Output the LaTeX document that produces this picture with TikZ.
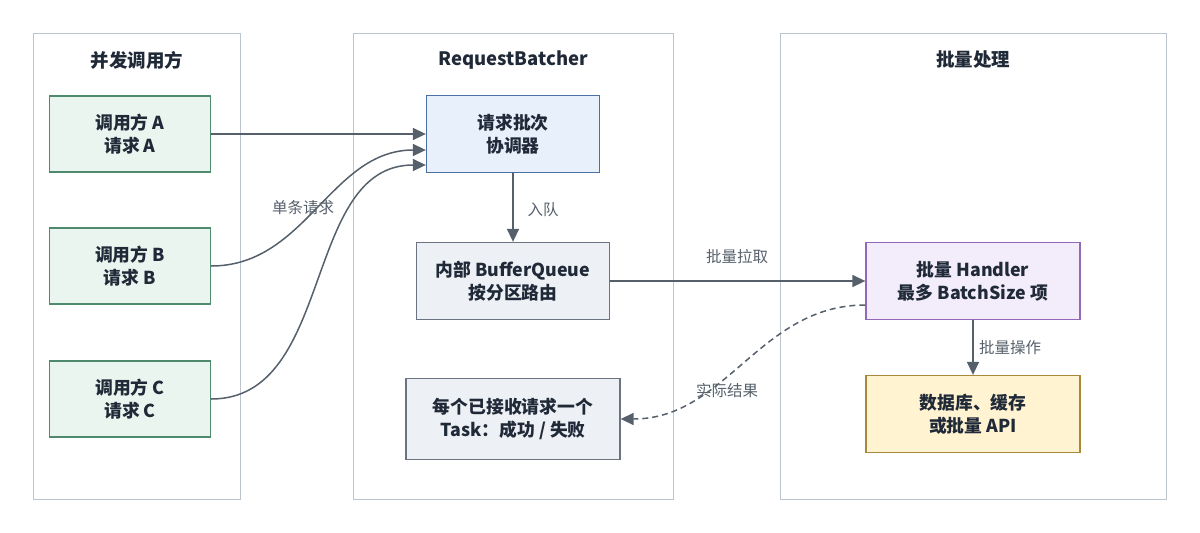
\documentclass[tikz,border=0pt]{standalone}
\usepackage{fontspec}
\setmainfont{Noto Sans CJK SC}
\usetikzlibrary{arrows.meta}
\definecolor{panelline}{HTML}{BCC5CE}
\definecolor{inkdark}{HTML}{1F2937}
\definecolor{arrowgrey}{HTML}{56606B}
\definecolor{callerfill}{HTML}{E9F5EE}
\definecolor{callerline}{HTML}{4F8A6F}
\definecolor{coordfill}{HTML}{E8F0FC}
\definecolor{coordline}{HTML}{4A6FA5}
\definecolor{queuefill}{HTML}{EDF0F4}
\definecolor{queueline}{HTML}{6B7380}
\definecolor{handlerfill}{HTML}{F3ECFB}
\definecolor{handlerline}{HTML}{9468B8}
\definecolor{storefill}{HTML}{FFF3D1}
\definecolor{storeline}{HTML}{A8883A}

\tikzset{
  panel/.style={draw=panelline, line width=1pt},
  title/.style={font=\fontsize{18.5}{20}\selectfont\bfseries, text=inkdark},
  box/.style={draw, line width=1.3pt, minimum width=161pt, minimum height=76pt,
    align=center, font=\fontsize{17.8}{23}\selectfont\bfseries, text=inkdark},
  caller/.style={box, draw=callerline, fill=callerfill},
  coord/.style={box, draw=coordline, fill=coordfill},
  queue/.style={box, draw=queueline, fill=queuefill},
  handler/.style={box, draw=handlerline, fill=handlerfill},
  store/.style={box, draw=storeline, fill=storefill},
  flow/.style={draw=arrowgrey, line width=1.5pt, -{Triangle[length=13pt,width=12pt]}},
  lbl/.style={font=\fontsize{15.5}{17}\selectfont, text=arrowgrey},
}

\begin{document}
\begin{tikzpicture}[x=1pt,y=-1pt]
\useasboundingbox (0,0) rectangle (1200,533);

% panels
\draw[panel] (33,33) rectangle (240,499);
\draw[panel] (353,33) rectangle (673,499);
\draw[panel] (780,33) rectangle (1166,499);
\node[title] (tcallers) at (137,60) {并发调用方};
\node[title] (tbatcher) at (513,60) {RequestBatcher};
\node[title] (tbatch) at (973,60) {批量处理};

% callers
\node[caller] (callA) at (130,134) {调用方 A\\请求 A};
\node[caller] (callB) at (130,266) {调用方 B\\请求 B};
\node[caller] (callC) at (130,399) {调用方 C\\请求 C};

% batcher
\node[coord, minimum width=173pt, minimum height=77pt] (coordinator) at (513,134) {请求批次\\协调器};
\node[queue, minimum width=193pt, minimum height=77pt] (buffer) at (513,281) {内部 BufferQueue\\按分区路由};
\node[queue, minimum width=214pt, minimum height=81pt] (tasks) at (513,419) {每个已接收请求一个\\Task：成功 / 失败};

% handler side
\node[handler, minimum width=214pt, minimum height=77pt] (handler) at (973,281) {批量 Handler\\最多 BatchSize 项};
\node[store, minimum width=214pt, minimum height=77pt] (store) at (973,414) {数据库、缓存\\或批量 API};

% connectors
\draw[flow] (callA.east) -- (coordinator.west);
\draw[flow] (callB.east) to[out=0,in=180] ([yshift=-16pt]coordinator.west);
\draw[flow] (callC.east) to[out=0,in=180] ([yshift=-31pt]coordinator.west);
\node[lbl] (lsingle) at (303,208) {单条请求};

\draw[flow] (coordinator.south) -- (buffer.north);
\node[lbl] (lenq) at (543,210) {入队};

\draw[flow] (buffer.east) -- (handler.west);
\node[lbl] (lpull) at (737,257) {批量拉取};

\draw[flow] (handler.south) -- (store.north);
\node[lbl] (lop) at (1010,348) {批量操作};

\draw[flow, dashed, dash pattern=on 6pt off 4pt] ([yshift=-24pt]handler.west) to[out=180,in=0] (tasks.east);
\node[lbl] (lresult) at (727,391) {实际结果};
%\node[lbl] at (513,520) {};
\end{tikzpicture}
\end{document}
